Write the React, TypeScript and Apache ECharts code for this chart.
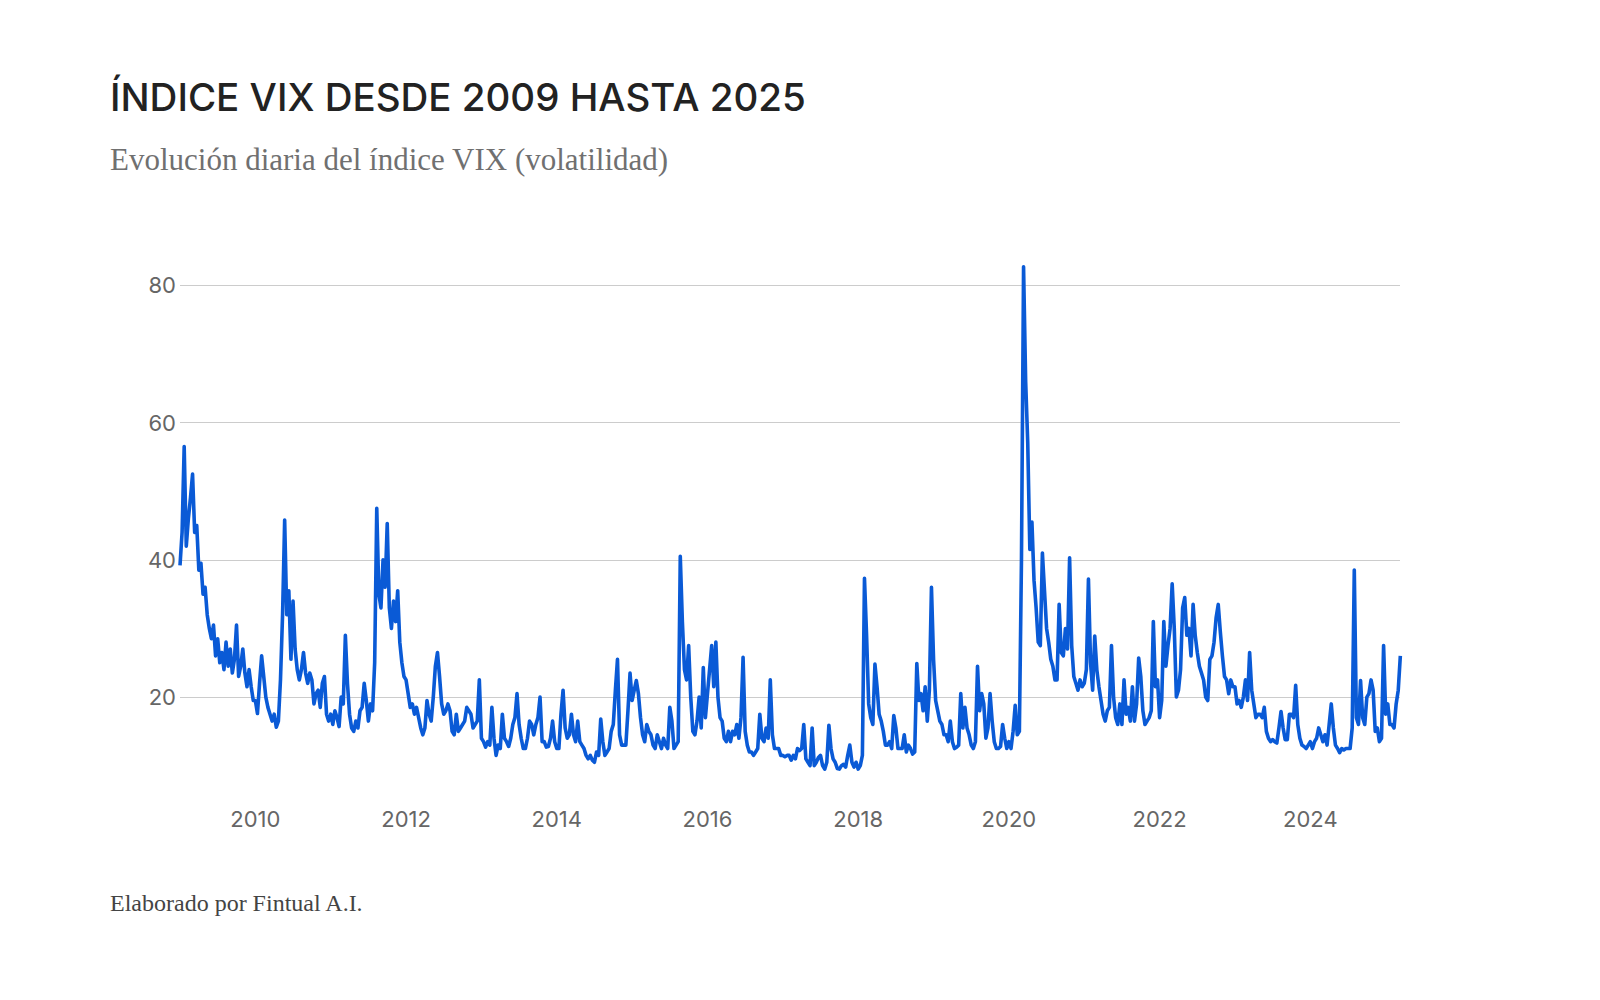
import { useEffect, useRef } from "react";
import * as echarts from "echarts";

const vix2009 = [39.2, 44, 56.5, 42, 46, 49, 52.5, 44, 45, 38.5, 39.5, 35, 36, 32, 30, 28.5, 30.5, 26, 28.5, 25, 26.5, 24, 28, 24.5, 27, 23.5, 25.5, 30.5, 23, 24.5, 27, 23.5, 21.5, 24, 21.5, 19.5];
const vix2010 = [19.5, 17.6, 22, 26, 23, 20, 18.5, 17.5, 16.5, 17.5, 15.6, 16.5, 22.5, 32, 45.8, 32, 35.5, 25.5, 34, 27, 24, 22.5, 24, 26.5, 23.5, 22, 23.5, 22.5, 19, 20.5, 21, 18.5, 22, 23, 17.5, 16.5];
const vix2011 = [17.5, 16, 18, 17, 15.7, 20, 19, 29, 22, 17.5, 15.5, 15, 16.5, 15.5, 18, 18.5, 22, 19.5, 16.5, 19, 18, 25, 47.5, 35, 33, 40, 36, 45.3, 33, 30, 34, 31, 35.5, 28, 25, 23];
const vix2012 = [22.5, 20.5, 18.5, 19, 17.5, 18.5, 17, 15.5, 14.5, 15.5, 19.5, 17.5, 16.5, 20, 24.5, 26.5, 23, 19, 17.5, 18, 19, 18, 15, 14.5, 17.5, 15, 15.5, 16, 16.5, 18.5, 18, 17.5, 15.5, 16, 16.5, 22.5];
const vix2013 = [14, 13.5, 12.7, 13.5, 13, 18.5, 14, 11.5, 13, 12.5, 17.5, 14, 13.5, 12.8, 14, 16, 17, 20.5, 16, 14, 12.5, 12.5, 14, 16.5, 16, 14.5, 16, 17, 20, 13.5, 13.5, 12.7, 12.8, 14, 16.5, 13.5];
const vix2014 = [12.5, 12.5, 17.5, 21, 15.5, 14, 14.5, 17.5, 14.5, 13.5, 16.5, 13.5, 13, 12.5, 11.5, 11, 11.5, 10.8, 10.5, 12, 11.5, 16.8, 13.5, 11.5, 12, 12.5, 15, 16, 21, 25.5, 14.5, 13, 13, 13, 18, 23.5];
const vix2015 = [19.5, 21, 22.4, 20.5, 17, 14.5, 13.5, 16, 15, 14.5, 13, 12.5, 14.5, 13.5, 12.5, 14, 13, 12.5, 18.5, 16.5, 12.5, 13, 13.5, 40.5, 31, 24, 22.5, 27.5, 20, 15, 14.5, 16.5, 20, 15.5, 24.3, 17];
const vix2016 = [20.5, 24, 27.5, 21.5, 28, 20, 17, 16.5, 14, 13.5, 15, 13.5, 15, 14.5, 16, 14, 17, 25.8, 15, 13, 12, 12, 11.5, 12, 12.5, 17.5, 14, 13.5, 15.5, 14, 22.5, 14.5, 12.5, 12.5, 12.5, 11.5];
const vix2017 = [11.5, 11.3, 11.5, 11.5, 10.8, 11.5, 11, 12.5, 12.2, 12.5, 16, 11, 10.5, 10, 15.5, 10, 10.5, 11.2, 11.5, 10, 9.5, 10.5, 15.9, 12.5, 11, 10.5, 9.6, 9.5, 10, 10.2, 9.8, 11.5, 13, 10.5, 9.8, 10.5];
const vix2018 = [9.5, 10, 11.5, 37.3, 29, 19, 17, 16, 24.8, 21.5, 17.5, 16.5, 15, 13, 13, 13.5, 12.5, 17.3, 15.5, 12.5, 12.5, 12.5, 14.5, 12, 13, 12.5, 11.7, 12, 24.9, 19.5, 20.5, 18, 21.5, 16.5, 21, 36];
const vix2019 = [25.5, 19.5, 18, 16.5, 16, 14.5, 14.5, 13.5, 16.5, 13.5, 12.5, 12.7, 13, 20.5, 15.5, 18.5, 15.5, 14.5, 13, 12.5, 13.5, 24.5, 18, 20.5, 19, 14, 15.5, 20.5, 16.5, 13.5, 12.5, 12.5, 12.8, 16, 14, 12.5];
const vix2020 = [13.5, 12.5, 15, 18.8, 14.5, 15, 40, 82.7, 66, 57, 41.5, 45.5, 37, 33, 28, 27.5, 41, 35.5, 30, 28, 25.5, 24.5, 22.5, 22.5, 33.5, 26.5, 26, 30, 27, 40.3, 27.5, 23, 22, 21, 22.5, 21.5];
const vix2021 = [22, 24, 37.2, 25, 21, 28.9, 24, 21.5, 19.5, 17.5, 16.5, 18, 18.5, 27.5, 20, 17, 16, 19, 16, 22.5, 17.5, 18.5, 16.5, 21.5, 16.5, 19, 25.7, 23, 18, 16, 16.5, 17, 18, 31, 21.5, 22.5];
const vix2022 = [17, 19.5, 31, 24.5, 27.5, 30, 36.5, 30, 20, 21, 24, 33, 34.5, 29, 30, 26, 33.5, 29, 26.5, 24.5, 23.5, 22.5, 20, 19.5, 25.5, 26, 28, 31.6, 33.5, 29.5, 26, 23, 22.5, 20.5, 22.5, 21.5];
const vix2023 = [21.5, 19, 19.5, 18.5, 20, 22.5, 19.5, 26.5, 21, 19, 17, 17.5, 17.5, 17, 18.5, 15, 14, 13.5, 13.8, 13.5, 13.3, 15.5, 17.9, 15.5, 13.8, 13.8, 17.5, 17.5, 17, 21.7, 16, 14, 13, 12.8, 12.5, 13];
const vix2024 = [13.5, 12.5, 13.5, 14, 15.5, 14.5, 13.5, 14.5, 13, 16, 19, 15.5, 13, 12.5, 11.9, 12.5, 12.3, 12.5, 12.5, 12.5, 15.5, 38.5, 17, 16, 22.4, 17, 16, 20, 20.5, 22.5, 21, 15, 15.5, 13.5, 14, 27.5];
const vix2025 = [17.5, 19, 16, 16, 15.5, 19, 21, 26];

const yearlySeries: Array<[number, number[]]> = [
  [2009, vix2009], [2010, vix2010], [2011, vix2011], [2012, vix2012],
  [2013, vix2013], [2014, vix2014], [2015, vix2015], [2016, vix2016],
  [2017, vix2017], [2018, vix2018], [2019, vix2019], [2020, vix2020],
  [2021, vix2021], [2022, vix2022], [2023, vix2023], [2024, vix2024],
  [2025, vix2025],
];

const xTickYears = [2010, 2012, 2014, 2016, 2018, 2020, 2022, 2024];
const yTicks = [20, 40, 60, 80];

const TITLE = "ÍNDICE VIX DESDE 2009 HASTA 2025";
const SUBTITLE = "Evolución diaria del índice VIX (volatilidad)";
const SOURCE = "Elaborado por Fintual A.I.";

const points = yearlySeries.flatMap(([year, vals]) =>
  vals.map((v, i) => [year + i / 36, v])
);

const VixChart = () => {
  const chartRef = useRef<HTMLDivElement>(null);

  useEffect(() => {
    if (!chartRef.current) return;
    const chart = echarts.init(chartRef.current, null, { renderer: "svg" });

    const labelStyle = {
      fontFamily: "Inter, Roboto, sans-serif",
      fontSize: 22,
      color: "#666666",
    };

    chart.setOption({
      animation: false,
      backgroundColor: "#ffffff",
      graphic: [
        {
          type: "text",
          left: 110,
          top: 77,
          style: {
            text: TITLE,
            fontFamily: "Inter, sans-serif",
            fontWeight: 500,
            fontSize: 38.5,
            fill: "#222222",
          },
        },
        {
          type: "text",
          left: 110,
          top: 144,
          style: {
            text: SUBTITLE,
            fontFamily: "'Liberation Serif', 'DejaVu Serif', serif",
            fontSize: 31,
            fill: "#707070",
          },
        },
        {
          type: "text",
          left: 110,
          top: 891,
          style: {
            text: SOURCE,
            fontFamily: "'Liberation Serif', 'DejaVu Serif', serif",
            fontSize: 24,
            fill: "#444444",
          },
        },
      ],
      grid: { left: 180, right: 200, top: 251, bottom: 200 },
      xAxis: {
        type: "value",
        min: 2009,
        max: 2025.19,
        axisLine: { show: false },
        axisTick: { show: false },
        splitLine: { show: false },
        axisLabel: {
          ...labelStyle,
          margin: 8,
          customValues: xTickYears,
          formatter: (v: number) => String(v),
        },
      },
      yAxis: {
        type: "value",
        min: 5,
        max: 85,
        axisLine: { show: false },
        axisTick: { show: false, customValues: yTicks },
        splitLine: { show: true, lineStyle: { color: "#cccccc", width: 1 } },
        axisLabel: {
          ...labelStyle,
          margin: 4,
          customValues: yTicks,
        },
      },
      series: [
        {
          type: "line",
          data: points,
          showSymbol: false,
          symbol: "none",
          lineStyle: { color: "#0a5ad6", width: 3.6, join: "round" },
          silent: true,
        },
      ],
    });

    return () => chart.dispose();
  }, []);

  return (
    <div
      ref={chartRef}
      style={{ position: "absolute", left: 0, top: 0, width: 1600, height: 1000 }}
    />
  );
};

export default function App() {
  return <VixChart />;
}
